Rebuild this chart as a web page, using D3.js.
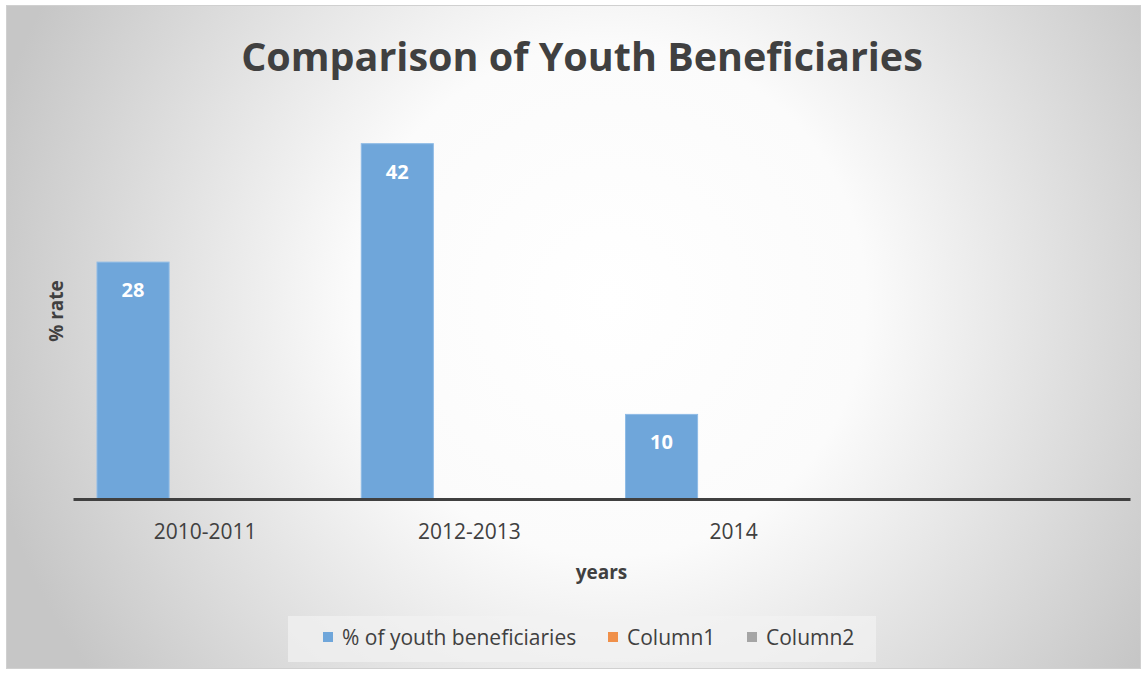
<!DOCTYPE html>
<meta charset="utf-8">
<script src="https://d3js.org/d3.v7.min.js"></script>
<style>
body { margin: 0; background: #fff; }
text { font-family: "Open Sans", "Noto Sans", sans-serif; }
</style>
<div id="chart"></div>
<script>
// chart data
var categories = ["2010-2011", "2012-2013", "2014", ""];
var seriesNames = ["% of youth beneficiaries", "Column1", "Column2"];
var seriesColors = ["#6fa6da", "#f0904a", "#a5a5a5"];
var youth = [28, 42, 10, null];
var column1 = [null, null, null, null];
var column2 = [null, null, null, null];
var yDomain = [0, 50];

var W = 1147, H = 673;
var svg = d3.select("#chart").append("svg")
  .attr("width", W).attr("height", H);

// radial background like the office chart area
var defs = svg.append("defs");
var grad = defs.append("radialGradient")
  .attr("id", "bg")
  .attr("gradientUnits", "userSpaceOnUse")
  .attr("cx", 610).attr("cy", 300).attr("r", 640);
grad.append("stop").attr("offset", "0%").attr("stop-color", "#ffffff");
grad.append("stop").attr("offset", "40%").attr("stop-color", "#fbfbfb");
grad.append("stop").attr("offset", "100%").attr("stop-color", "#c6c6c6");

svg.append("rect")
  .attr("x", 6.5).attr("y", 5.5)
  .attr("width", 1134).attr("height", 663)
  .attr("fill", "url(#bg)")
  .attr("stroke", "#d0d0d0");

var plot = {left: 73, right: 1130, top: 76, bottom: 499};

var x = d3.scaleBand()
  .domain(categories.map(function(d, i) { return i; }))
  .range([plot.left, plot.right]);

var xs = d3.scaleBand()
  .domain(seriesNames)
  .range([0, x.bandwidth()])
  .paddingOuter(24 / 72)
  .paddingInner(0);

var y = d3.scaleLinear().domain(yDomain).range([plot.bottom, plot.top]);

var allSeries = [youth, column1, column2];

allSeries.forEach(function(vals, s) {
  var g = svg.append("g");
  vals.forEach(function(v, i) {
    if (v == null) return;
    g.append("rect")
      .attr("x", x(i) + xs(seriesNames[s]))
      .attr("y", y(v))
      .attr("width", xs.bandwidth())
      .attr("height", y(0) - y(v))
      .attr("fill", seriesColors[s])
      .attr("stroke", "#8fbbe6")
      .attr("stroke-width", 1);
    g.append("text")
      .attr("x", x(i) + xs(seriesNames[s]) + xs.bandwidth() / 2)
      .attr("y", y(v) + 35)
      .attr("text-anchor", "middle")
      .attr("fill", "#ffffff")
      .attr("font-weight", "bold")
      .attr("font-size", "20px")
      .text(v);
  });
});

// x axis
var xAxis = svg.append("g")
  .attr("transform", "translate(0," + plot.bottom + ")")
  .call(d3.axisBottom(x).tickSize(0).tickPadding(0)
    .tickFormat(function(i) { return categories[i]; }));
xAxis.select(".domain")
  .attr("stroke", "#404040").attr("stroke-width", 3);
xAxis.selectAll("text")
  .attr("y", 40)
  .attr("dy", 0)
  .attr("font-size", "21px")
  .attr("fill", "#404040")
  .style("font-family", "'Open Sans', sans-serif");

// title
svg.append("text")
  .attr("x", 582).attr("y", 71)
  .attr("text-anchor", "middle")
  .attr("font-size", "39.5px")
  .attr("font-weight", "bold")
  .attr("fill", "#404040")
  .text("Comparison of Youth Beneficiaries");

// axis titles
svg.append("text")
  .attr("x", (plot.left + plot.right) / 2).attr("y", 579)
  .attr("text-anchor", "middle")
  .attr("font-size", "19px")
  .attr("font-weight", "bold")
  .attr("fill", "#404040")
  .text("years");

svg.append("text")
  .attr("transform", "translate(63,311) rotate(-90)")
  .attr("text-anchor", "middle")
  .attr("font-size", "19px")
  .attr("font-weight", "bold")
  .attr("fill", "#404040")
  .text("% rate");

// legend
var legend = svg.append("g");
legend.append("rect")
  .attr("x", 288).attr("y", 616)
  .attr("width", 588).attr("height", 46)
  .attr("fill", "#f2f2f2").attr("opacity", 0.7);
var legendX = [323, 608, 747];
seriesNames.forEach(function(name, s) {
  legend.append("rect")
    .attr("x", legendX[s]).attr("y", 632)
    .attr("width", 10).attr("height", 10)
    .attr("fill", seriesColors[s]);
  legend.append("text")
    .attr("x", legendX[s] + 19).attr("y", 645)
    .attr("font-size", "21px")
    .attr("fill", "#404040")
    .text(name);
});
</script>
